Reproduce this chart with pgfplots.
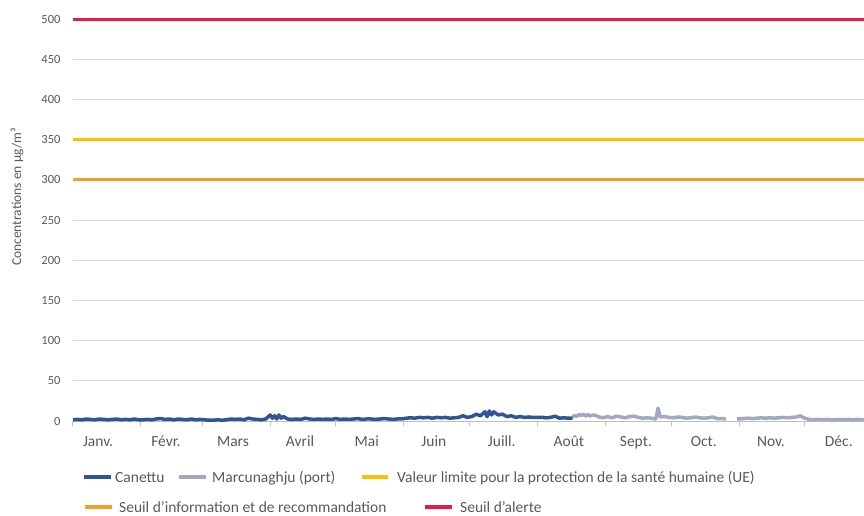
\documentclass[border=0pt]{standalone}
\usepackage{pgfplots}
\pgfplotsset{compat=1.18}
\usepackage{fontspec}
\setmainfont{Carlito}
\definecolor{canettu}{RGB}{47,85,151}
\definecolor{marcu}{RGB}{160,170,190}
\definecolor{valeur}{RGB}{255,192,0}
\definecolor{seuilinfo}{RGB}{244,160,40}
\definecolor{alerte}{RGB}{232,25,70}
\definecolor{gridgray}{RGB}{217,217,217}
\definecolor{axisgray}{RGB}{191,191,191}
\definecolor{labelgray}{RGB}{89,89,89}
\begin{document}
\begin{tikzpicture}
\useasboundingbox (-73pt,-94pt) rectangle (791pt,421pt);
\begin{axis}[
  scale only axis, width=791pt, height=402pt,
  xmin=0, xmax=361, ymin=0, ymax=500,
  clip=false,
  axis x line=bottom, axis y line=left,
  x axis line style={-, draw=axisgray, line width=1pt},
  y axis line style={draw=none},
  ytick={0,50,...,500},
  ymajorgrids, grid style={draw=gridgray, line width=1pt},
  major y tick style={draw=none},
  yticklabel style={font=\fontsize{12.5}{14}\selectfont, text=labelgray, xshift=-4pt},
  /pgf/number format/assume math mode=true,
  xtick={0,31,59,90,120,151,181,212,243,273,304,334},
  xticklabels={},
  tick align=outside, major tick length=5pt,
  major x tick style={draw=axisgray, line width=1pt},
  extra x ticks={11.4,42.4,73.0,103.6,134.1,164.7,195.7,226.3,256.9,287.9,318.5,349.5},
  extra x tick labels={Janv.,Févr.,Mars,Avril,Mai,Juin,Juill.,Août,Sept.,Oct.,Nov.,Déc.},
  extra x tick style={major tick length=0pt, tick style={draw=none},
    xticklabel style={anchor=base, yshift=-25pt, font=\fontsize{15.5}{17}\selectfont, text=labelgray}},
  unbounded coords=jump,
]
\addplot[seuilinfo, line width=3pt] coordinates {(0,300) (361,300)};
\addplot[valeur, line width=3pt] coordinates {(0,350) (361,350)};
\addplot[alerte, line width=3pt] coordinates {(0,500) (361,500)};
\addplot[marcu, line width=3.5pt, line join=round] coordinates {
(228,5) (229,7) (230,6) (231,8) (232,7) (233,8.5) (234,6) (235,8) (236,6.5) (238,7.5) (240,5) (242,4) (244,5.5) (246,4) (248,6) (250,5) (252,4) (254,5.5) (256,6) (258,4.5) (260,3.5) (262,4) (264,3.5) (266,2.5) (267,16) (268,5) (270,5.5) (272,4.5) (274,4) (276,5) (278,4.5) (280,3.5) (282,4) (284,5) (286,4) (288,3.5) (290,4) (292,5) (294,3) (296,3) (298,2.5)
(300,nan)
(303,2.5) (306,3) (308,3.5) (310,3) (312,3.5) (314,4) (316,3.5) (318,4) (320,3.5) (322,4) (324,4.5) (326,4) (328,4.5) (330,5) (332,6.5) (333,4.5) (334,3.5) (336,2) (338,1.5) (340,2) (342,1.5) (344,2) (346,1.5) (348,1.5) (350,2) (352,1.5) (354,2) (356,1.5) (358,2) (361,1.5)
};
\addplot[canettu, line width=3.5pt, line join=round] coordinates {
(0,1.5) (2,2) (4,1.5) (6,2.5) (8,2) (10,1.5) (12,2.5) (14,2) (16,1.5) (18,2) (20,2.5) (22,1.5) (24,2) (26,1.5) (28,2.5) (30,1.5) (32,1.5) (34,2) (36,1.5) (38,2.5) (40,3) (42,2) (44,2.5) (46,1.5) (48,2.5) (50,2) (52,1.5) (54,2.5) (56,1.5) (58,2) (60,1.5) (62,1) (64,1) (66,1.5) (68,1) (70,1.5) (72,2.5) (74,2) (76,2.5) (78,1.5) (80,3.5) (82,2.5) (84,2) (86,1.5) (88,2.5) (90,7.5) (91,3.5) (92,6.5) (93,2.5) (94,7.5) (95,3.5) (96,5.5) (98,2.5) (100,2) (102,2.5) (104,2) (106,3.5) (108,2.5) (110,2) (112,2.5) (114,2) (116,2.5) (118,2) (120,3) (122,2) (124,2.5) (126,2) (128,2.5) (130,3) (132,2) (134,2.5) (136,2.5) (138,2) (140,2.5) (142,3) (144,2.5) (146,2) (148,2.5) (150,2.5) (152,3.5) (154,4) (156,3.5) (158,4.5) (160,4) (162,4.5) (164,3.5) (166,4.5) (168,4) (170,4.5) (172,3.5) (174,4) (176,4.5) (178,6.5) (180,4.5) (182,5.5) (184,8.5) (186,6.5) (188,11.5) (189,5.5) (190,12.5) (191,7.5) (192,11.5) (194,7.5) (196,8.5) (198,5.5) (200,6.5) (202,4.5) (204,5.5) (206,4.5) (208,5) (210,4.5) (212,4.5) (214,4.5) (216,4) (218,4.5) (220,6) (222,3.5) (224,4) (226,3.5) (228,3.5)
};
\end{axis}
\node[rotate=90, font=\fontsize{13.5}{15}\selectfont, text=labelgray] at (-56pt,224pt) {Concentrations en µg/m³};
\begin{scope}[font=\fontsize{15.5}{17}\selectfont, text=labelgray]
\draw[canettu, line width=4pt] (11pt,-56pt) -- (38pt,-56pt);
\node[anchor=base west, inner sep=0] at (42pt,-61pt) {Canettu};
\draw[marcu, line width=4pt] (106pt,-56pt) -- (133pt,-56pt);
\node[anchor=base west, inner sep=0] at (139pt,-61pt) {Marcunaghju (port)};
\draw[valeur, line width=4pt] (289pt,-56pt) -- (315pt,-56pt);
\node[anchor=base west, inner sep=0] at (324pt,-61pt) {Valeur limite pour la protection de la santé humaine (UE)};
\draw[seuilinfo, line width=4pt] (12pt,-86pt) -- (39pt,-86pt);
\node[anchor=base west, inner sep=0] at (46pt,-91pt) {Seuil d'information et de recommandation};
\draw[alerte, line width=4pt] (352pt,-86pt) -- (379pt,-86pt);
\node[anchor=base west, inner sep=0] at (387pt,-91pt) {Seuil d'alerte};
\end{scope}
\end{tikzpicture}
\end{document}
